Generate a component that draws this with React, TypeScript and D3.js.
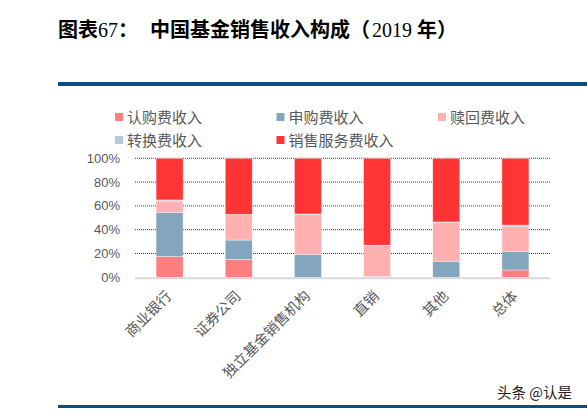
import React from "react";
import {scaleBand, scaleLinear, stack} from "d3";

const categories = ["商业银行", "证券公司", "独立基金销售机构", "直销", "其他", "总体"];
const seriesNames = ["认购费收入", "申购费收入", "赎回费收入", "转换费收入", "销售服务费收入"];
const subscribeFee = [17.5, 15.1, 0, 0, 0, 6.1];
const purchaseFee = [37.1, 16.2, 19.3, 0.8, 13.5, 15.4];
const redeemFee = [9.5, 21.3, 33.6, 26.1, 32.8, 21.0];
const switchFee = [0.9, 0.3, 0.3, 0.1, 0.2, 1.4];
const serviceFee = [35.0, 47.1, 46.8, 73.0, 53.5, 56.1];
const yTicks = [0, 20, 40, 60, 80, 100];
const colors = ["#FF7F80", "#84A5BE", "#FFB1B1", "#B5CADB", "#FF3535"];

const W = 587;
const H = 413;
const plot = {left: 135, right: 550, top: 158.3, bottom: 277.3};
const cjk = "'Noto Sans CJK SC', sans-serif";
const serif = "'Liberation Serif', serif";

export default function App() {
    const x = scaleBand<string>()
        .domain(categories)
        .range([plot.left, plot.right])
        .paddingInner(0.61)
        .paddingOuter(0.305);
    const y = scaleLinear().domain([0, 100]).range([plot.bottom, plot.top]);

    const rows = categories.map((c, i) => ({
        cat: c,
        [seriesNames[0]]: subscribeFee[i],
        [seriesNames[1]]: purchaseFee[i],
        [seriesNames[2]]: redeemFee[i],
        [seriesNames[3]]: switchFee[i],
        [seriesNames[4]]: serviceFee[i],
    }));
    const layers = stack<any>().keys(seriesNames)(rows);

    // legend: 3 columns, 2 rows
    const legendPos = seriesNames.map((_, i) => ({
        x: 115 + (i % 3) * 161.5,
        y: 117 + Math.floor(i / 3) * 23,
    }));

    return (
        <svg
            width={W}
            height={H}
            style={{position: "absolute", left: 0, top: 0, background: "#fff"}}
        >
            {/* title */}
            <text x={58} y={37} fontFamily={cjk} fontWeight="bold" fontSize={20} fill="#000">
                图表
                <tspan fontFamily={serif} fontWeight="normal">67</tspan>
                ：
                <tspan dx={12}>中国基金销售收入构成（</tspan>
                <tspan fontFamily={serif} fontWeight="normal" dx={2}>2019 </tspan>
                年）
            </text>
            <rect x={58} y={82} width={W - 58} height={4} fill="#0B4D7E" />
            <rect x={58} y={405} width={W - 58} height={3} fill="#0B4D7E" />

            {/* legend */}
            {seriesNames.map((s, i) => (
                <g key={s} transform={`translate(${legendPos[i].x},${legendPos[i].y})`}>
                    <rect x={0} y={-4} width={8} height={8} fill={colors[i]} />
                    <text x={12} y={5.5} fontFamily={cjk} fontSize={15} fill="#595959">
                        {s}
                    </text>
                </g>
            ))}

            {/* grid */}
            {yTicks.map((t) => (
                <g key={t}>
                    {t > 0 && (
                        <line
                            x1={plot.left}
                            x2={plot.right}
                            y1={y(t)}
                            y2={y(t)}
                            stroke="#404040"
                            strokeWidth={1}
                            strokeDasharray="1,1"
                        />
                    )}
                    <text
                        x={120}
                        y={y(t) + 4.5}
                        textAnchor="end"
                        fontFamily="'Liberation Sans', Arial, sans-serif"
                        fontSize={13}
                        fill="#595959"
                    >
                        {t}%
                    </text>
                </g>
            ))}

            {/* bars */}
            {layers.map((layer, li) => (
                <g key={layer.key} fill={colors[li]}>
                    {layer.map((d, i) => {
                        const h = y(d[0]) - y(d[1]);
                        if (h <= 0) return null;
                        return (
                            <rect
                                key={i}
                                x={x(categories[i])}
                                y={y(d[1])}
                                width={x.bandwidth()}
                                height={h}
                                stroke="#fff"
                                strokeOpacity={0.6}
                                strokeWidth={0.6}
                            />
                        );
                    })}
                </g>
            ))}

            <line
                x1={plot.left}
                x2={plot.right}
                y1={y(0) + 1}
                y2={y(0) + 1}
                stroke="#D9D9D9"
                strokeWidth={2}
            />

            {/* x labels */}
            {categories.map((c) => {
                const cx = (x(c) || 0) + x.bandwidth() / 2 + 3;
                const cy = 297;
                return (
                    <text
                        key={c}
                        transform={`translate(${cx},${cy}) rotate(-45)`}
                        textAnchor="end"
                        fontFamily={cjk}
                        fontSize={14.5}
                        fill="#595959"
                    >
                        {c}
                    </text>
                );
            })}

            <text x={497} y={398} fontFamily={cjk} fontSize={14.5} fill="#222">
                头条 @认是
            </text>
        </svg>
    );
}
